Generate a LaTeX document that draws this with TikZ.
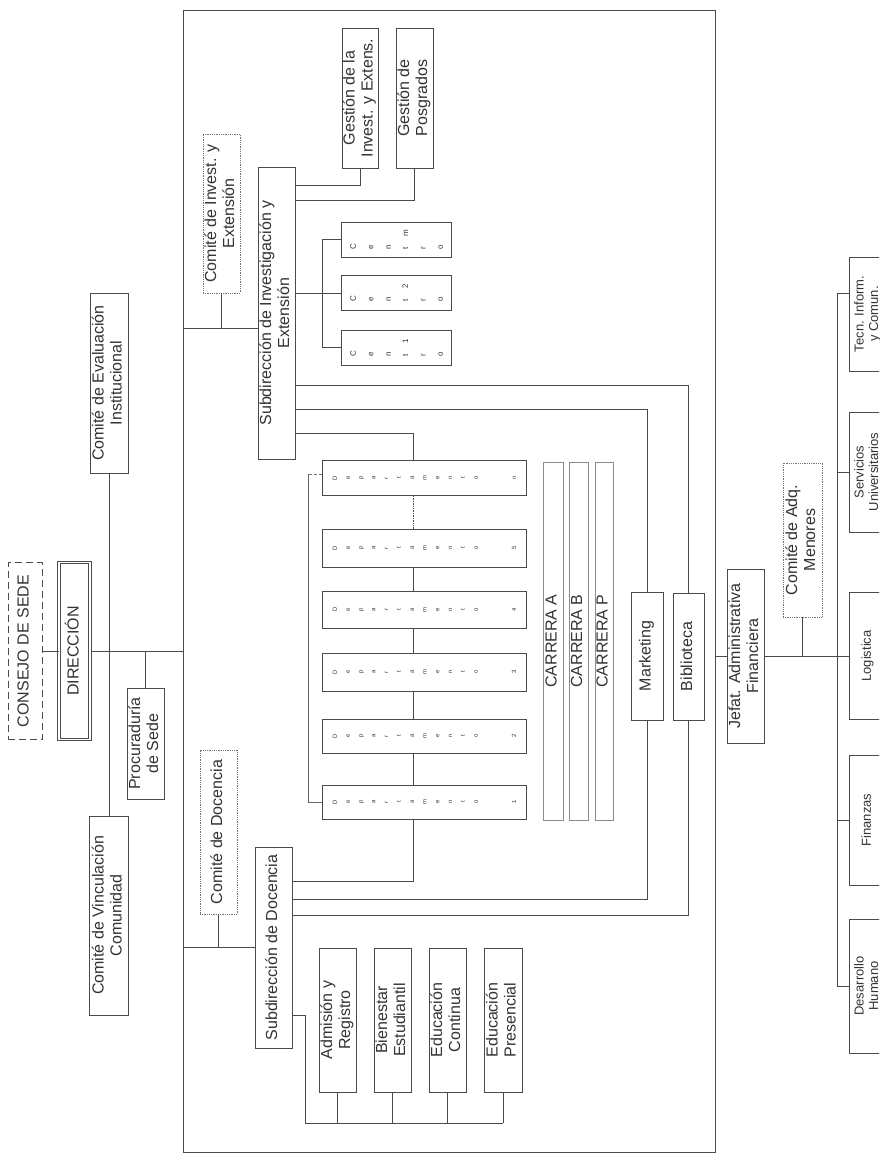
\documentclass[tikz,border=0pt]{standalone}
\usepackage{fontspec}
\setmainfont{Liberation Sans}
\usepackage{graphicx}
\usepackage{tikz}
\usetikzlibrary{calc}
\definecolor{scanline}{HTML}{4A4A4A}
\definecolor{scantext}{HTML}{333333}
\newcommand\orgfont{\fontsize{16}{18}\selectfont}
\newcommand\edgefont{\fontsize{13}{14.5}\selectfont}
\newcommand\vtext[1]{\rotatebox{90}{\begin{tabular}{@{}c@{}}#1\end{tabular}}}
\newcommand\edgetext[1]{\vtext{#1}\hspace{10pt}}
\newcommand\deptxt[1]{\rotatebox{90}{\fontsize{6}{12.8}\selectfont\begin{tabular}{@{}c@{}}D\\e\\p\\a\\r\\t\\a\\m\\e\\n\\t\\o\\[25.6pt]#1\end{tabular}}}
\newcommand\centxt[1]{\rotatebox{90}{\fontsize{8}{17.4}\selectfont\begin{tabular}{@{}l@{\hspace{7pt}}l@{}}C&\\e&\\n&\\t&#1\\r&\\o&\end{tabular}}}
\tikzset{
  orgbox/.style={draw=scanline,line width=.8pt,inner sep=0pt,text=scantext,font=\orgfont},
  cmtbox/.style={orgbox,draw=black!55,densely dotted},
  carbox/.style={orgbox,draw=black!45,line width=.6pt},
  edgebox/.style={orgbox,font=\edgefont,minimum width=38},
  conn/.style={draw=scanline,line width=.7pt}
}
\begin{document}
\begin{tikzpicture}[x=1pt,y=-1pt]
\useasboundingbox (0,0) rectangle (879,1155);
\clip (0,0) rectangle (879,1155);
\fill[white] (0,0) rectangle (879,1155);
\node[orgbox,draw=black!70,line width=1pt,dash pattern=on 7pt off 4pt,minimum width=34,minimum height=177] (consejo) at (25,651) {\vtext{CONSEJO DE SEDE}};
\node[orgbox,draw=black!70,line width=1pt,double=white,double distance=1.6pt,minimum width=31,minimum height=177] (direccion) at (74.5,651) {\vtext{DIRECCIÓN}};
\node[orgbox,minimum width=37,minimum height=111] (procu) at (145.5,743.5) {\vtext{Procuraduría\\de Sede}};
\node[orgbox,minimum width=38,minimum height=180] (evalc) at (109,383) {\vtext{Comité de Evaluación\\Institucional}};
\node[orgbox,minimum width=39,minimum height=199] (vinc) at (109,915.5) {\vtext{Comité de Vinculación\\Comunidad}};
\coordinate (frameNW) at (183,10);
\coordinate (frameSE) at (715,1152);
\draw[conn] (frameNW) rectangle (frameSE);
\draw[conn] (consejo) -- (direccion);
\draw[conn] (direccion.east) -- (direccion.east -| frameNW);
\draw[conn] (procu.north) -- (procu.north |- direccion.east);
\draw[conn] (evalc.south) -- (vinc.north);
\node[cmtbox,minimum width=37,minimum height=159] (cinv) at (221.5,213.5) {\vtext{Comité de Invest. y\\Extensión}};
\node[orgbox,minimum width=37,minimum height=292] (subinv) at (276.5,313) {\vtext{Subdirección de Investigación y\\Extensión}};
\node[orgbox,minimum width=36,minimum height=140] (gesinv) at (360,98) {\vtext{Gestión de la\\Invest. y Extens.}};
\node[orgbox,minimum width=37,minimum height=140] (gespos) at (414.5,98) {\vtext{Gestión de\\Posgrados}};
\node[orgbox,minimum width=110,minimum height=35] (centm) at (396,239.5) {\centxt{m}};
\node[orgbox,minimum width=110,minimum height=35] (cent2) at (396,293) {\centxt{2}};
\node[orgbox,minimum width=110,minimum height=35] (cent1) at (396,347.5) {\centxt{1}};
\coordinate (jinv) at (183,328);
\draw[conn] (jinv) -- (jinv -| subinv.west);
\draw[conn] (cinv.south) -- (cinv.south |- jinv);
\draw[conn] (subinv.east |- 0,185) -| (gesinv.south);
\draw[conn] (subinv.east |- 0,200) -| (gespos.south);
\draw[conn] (subinv.east |- cent2.west) -- (cent2.west);
\draw[conn] (centm.west) -- ++(-18,0) |- (cent1.west);
\node[orgbox,minimum width=204,minimum height=35] (depn) at (424,478) {\deptxt{n}};
\node[orgbox,minimum width=204,minimum height=38] (dep5) at (424,548) {\deptxt{5}};
\node[orgbox,minimum width=204,minimum height=37] (dep4) at (424,609.5) {\deptxt{4}};
\node[orgbox,minimum width=204,minimum height=38] (dep3) at (424,672) {\deptxt{3}};
\node[orgbox,minimum width=204,minimum height=34] (dep2) at (424,736) {\deptxt{2}};
\node[orgbox,minimum width=204,minimum height=34] (dep1) at (424,802) {\deptxt{1}};
\node[carbox,minimum width=20,minimum height=358] (carA) at (553,641) {\vtext{CARRERA A}};
\node[carbox,minimum width=19,minimum height=358] (carB) at (578.5,641) {\vtext{CARRERA B}};
\node[carbox,minimum width=18,minimum height=358] (carP) at (604,641) {\vtext{CARRERA P}};
\node[orgbox,minimum width=32,minimum height=128] (mkt) at (647,656) {\vtext{Marketing}};
\node[orgbox,minimum width=31,minimum height=127] (bib) at (688.5,656.5) {\vtext{Biblioteca}};
\coordinate (dx) at (413,0);
\draw[conn] (subinv.east |- 0,385) -| (bib.north);
\draw[conn] (subinv.east |- 0,409) -| (mkt.north);
\draw[conn] (subinv.east |- 0,433) -| (depn.north -| dx);
\draw[conn,densely dotted] (depn.south -| dx) -- (dep5.north -| dx);
\foreach \a/\b in {dep5/dep4,dep4/dep3,dep3/dep2,dep2/dep1}
  \draw[conn] (\a.south -| dx) -- (\b.north -| dx);
\coordinate (bk) at (308,474);
\draw[conn,densely dashed,draw=black!55] (bk -| depn.west) -- (bk);
\draw[conn,draw=black!60] (bk) |- (dep1.west);
\node[orgbox,minimum width=37,minimum height=201] (subdoc) at (273.5,947.5) {\vtext{Subdirección de Docencia}};
\node[cmtbox,minimum width=37,minimum height=164] (cdoc) at (218.5,832) {\vtext{Comité de Docencia}};
\node[orgbox,minimum width=37,minimum height=144] (adm) at (337.5,1020) {\vtext{Admisión y\\Registro}};
\node[orgbox,minimum width=37,minimum height=144] (bien) at (392.5,1020) {\vtext{Bienestar\\Estudiantil}};
\node[orgbox,minimum width=37,minimum height=144] (econt) at (447.5,1020) {\vtext{Educación\\Continua}};
\node[orgbox,minimum width=38,minimum height=144] (epres) at (503,1020) {\vtext{Educación\\Presencial}};
\coordinate (jdoc) at (183,947);
\draw[conn] (jdoc) -- (jdoc -| subdoc.west);
\draw[conn] (cdoc.south) -- (cdoc.south |- jdoc);
\draw[conn] (subdoc.east |- 0,881) -| (dep1.south -| dx);
\draw[conn] (subdoc.east |- 0,899) -| (mkt.south);
\draw[conn] (subdoc.east |- 0,915) -| (bib.south);
\coordinate (ebus) at (305,1123);
\draw[conn] (subdoc.east |- 0,1015) -| (ebus) -- (ebus -| epres.south);
\foreach \u in {adm,bien,econt,epres}
  \draw[conn] (\u.south) -- (\u.south |- ebus);
\node[orgbox,minimum width=37,minimum height=174] (jefat) at (745.5,656) {\vtext{Jefat. Administrativa\\Financiera}};
\node[cmtbox,minimum width=39,minimum height=154] (cadq) at (802.5,540) {\vtext{Comité de Adq.\\Menores}};
\node[edgebox,minimum height=114] (tic) at (868,314) {\edgetext{Tecn. Inform.\\y Comun.}};
\node[edgebox,minimum height=120] (serv) at (868,472) {\edgetext{Servicios\\Universitarios}};
\node[edgebox,minimum height=127] (logi) at (868,656) {\edgetext{Logistica}};
\node[edgebox,minimum height=130] (fin) at (868,820) {\edgetext{Finanzas}};
\node[edgebox,minimum height=134] (dh) at (868,986) {\edgetext{Desarrollo\\Humano}};
\coordinate (rx) at (837,0);
\draw[conn] (jefat.west -| frameSE) -- (jefat.west);
\draw[conn] (jefat.east) -- (logi.west);
\draw[conn] (cadq.south) -- (cadq.south |- jefat.east);
\draw[conn] (tic.west |- 0,293) -| (dh.west -| rx) -- (dh.west);
\foreach \u in {serv,fin}
  \draw[conn] (\u.west -| rx) -- (\u.west);
\end{tikzpicture}
\end{document}
